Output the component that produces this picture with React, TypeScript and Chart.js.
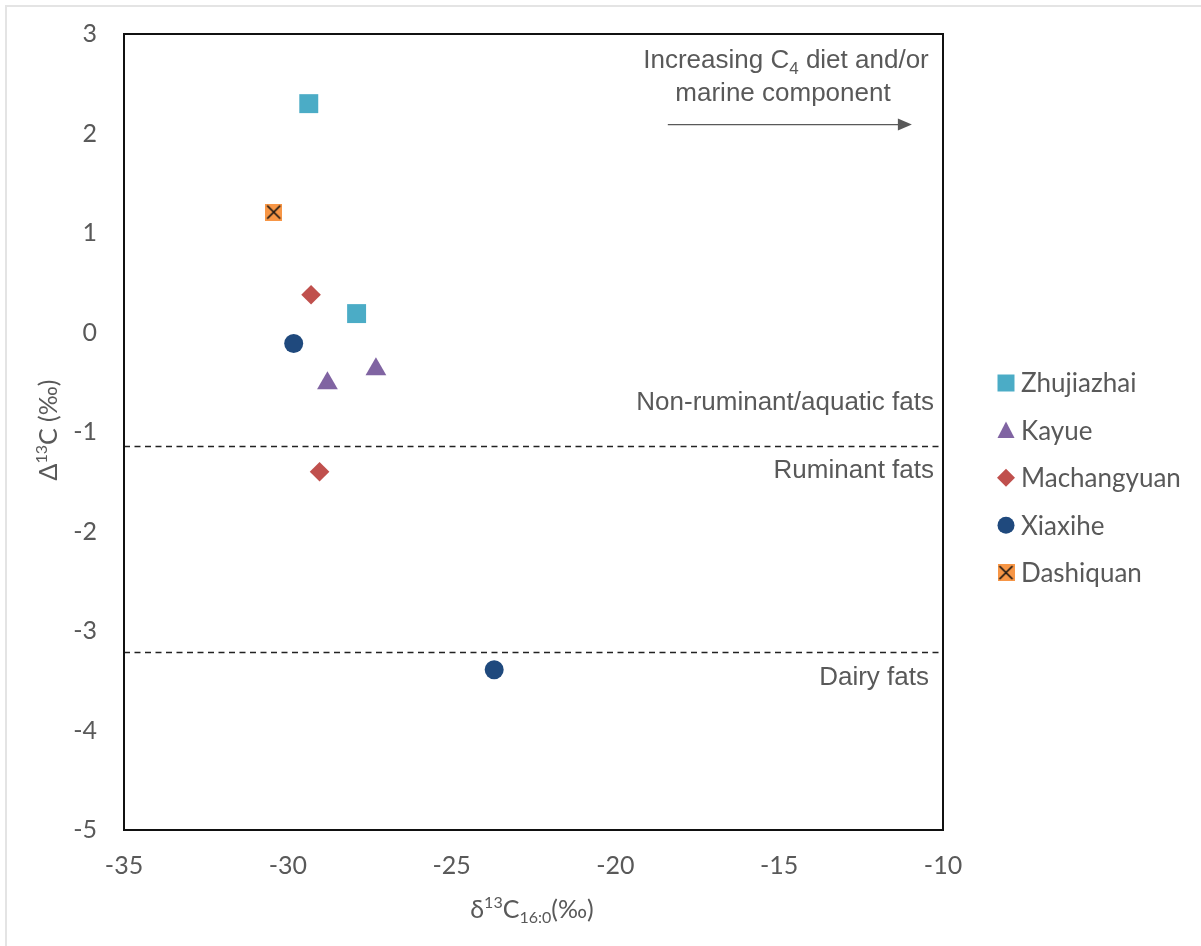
import React, { useEffect, useRef } from "react";
import { Chart, registerables } from "chart.js";

Chart.register(...registerables);

// ---- data ----
const zhujiazhaiX = [-29.36, -27.9];
const zhujiazhaiY = [2.3, 0.19];
const kayueX = [-28.79, -27.31];
const kayueY = [-0.51, -0.37];
const machangyuanX = [-29.29, -29.03];
const machangyuanY = [0.38, -1.4];
const xiaxiheX = [-29.82, -23.7];
const xiaxiheY = [-0.11, -3.39];
const dashiquanX = [-30.43];
const dashiquanY = [1.21];

const seriesNames = ["Zhujiazhai", "Kayue", "Machangyuan", "Xiaxihe", "Dashiquan"];
const xTicks = [-35, -30, -25, -20, -15, -10];
const yTicks = [-5, -4, -3, -2, -1, 0, 1, 2, 3];

const ruminantBoundary = -1.14;
const dairyBoundary = -3.21;
const arrowFromX = -18.4;
const arrowToX = -10.95;
const arrowY = 2.09;

const COLORS = ["#4BACC6", "#8064A2", "#C0504D", "#1F497D", "#F79646"];
const STYLES = ["rect", "triangle", "rectRot", "circle", "x-box"];
const GREY = "#595959";
const TICK_FONT = "Lato";
const NOTE_FONT = "'Liberation Sans', Arial, sans-serif";

function toPoints(xs: number[], ys: number[]) {
  return xs.map((x, i) => ({ x, y: ys[i] }));
}

function makeXBox(side: number) {
  const c = document.createElement("canvas");
  c.width = side;
  c.height = side;
  const g = c.getContext("2d")!;
  g.fillStyle = COLORS[4];
  g.fillRect(0, 0, side, side);
  g.strokeStyle = "#111";
  g.lineWidth = 1.6;
  g.beginPath();
  g.moveTo(2, 2);
  g.lineTo(side - 2, side - 2);
  g.moveTo(side - 2, 2);
  g.lineTo(2, side - 2);
  g.stroke();
  return c;
}

type Run = { t: string; size: number; dy: number };

function drawRuns(ctx: CanvasRenderingContext2D, runs: Run[], x: number, y: number, align: string, family: string) {
  let total = 0;
  const widths = runs.map((r) => {
    ctx.font = `${r.size}px ${family}`;
    const w = ctx.measureText(r.t).width;
    total += w;
    return w;
  });
  let cx = align === "center" ? x - total / 2 : align === "right" ? x - total : x;
  ctx.textAlign = "left";
  ctx.textBaseline = "alphabetic";
  runs.forEach((r, i) => {
    ctx.font = `${r.size}px ${family}`;
    ctx.fillText(r.t, cx, y + r.dy);
    cx += widths[i];
  });
}

function legendMarker(ctx: CanvasRenderingContext2D, style: string, color: string, x: number, y: number, img: HTMLCanvasElement) {
  ctx.fillStyle = color;
  ctx.beginPath();
  if (style === "rect") {
    ctx.rect(x - 8.5, y - 8.5, 17, 17);
  } else if (style === "triangle") {
    ctx.moveTo(x, y - 9);
    ctx.lineTo(x + 8.5, y + 7.5);
    ctx.lineTo(x - 8.5, y + 7.5);
    ctx.closePath();
  } else if (style === "rectRot") {
    ctx.moveTo(x, y - 9);
    ctx.lineTo(x + 9, y);
    ctx.lineTo(x, y + 9);
    ctx.lineTo(x - 9, y);
    ctx.closePath();
  } else if (style === "circle") {
    ctx.arc(x, y, 8.5, 0, Math.PI * 2);
  } else {
    ctx.drawImage(img, x - img.width / 2, y - img.height / 2);
    return;
  }
  ctx.fill();
}

export default function App() {
  const ref = useRef<HTMLCanvasElement | null>(null);

  useEffect(() => {
    document.body.style.margin = "0";
    const canvas = ref.current!;
    const xbox = makeXBox(17);
    const legendBox = makeXBox(17);

    const plugin = {
      id: "decor",
      beforeDraw(chart: any) {
        const ctx = chart.ctx;
        ctx.save();
        ctx.fillStyle = "#ffffff";
        ctx.fillRect(0, 0, chart.width, chart.height);
        ctx.strokeStyle = "#e4e4e4";
        ctx.lineWidth = 2;
        ctx.beginPath();
        ctx.moveTo(6, chart.height);
        ctx.lineTo(6, 6);
        ctx.lineTo(chart.width, 6);
        ctx.stroke();
        ctx.restore();
      },
      beforeDatasetsDraw(chart: any) {
        const ctx = chart.ctx;
        const { left, right, top, bottom } = chart.chartArea;
        const ys = chart.scales.y;
        ctx.save();
        ctx.strokeStyle = "#222";
        ctx.lineWidth = 1.5;
        ctx.setLineDash([6, 4.5]);
        [ruminantBoundary, dairyBoundary].forEach((v) => {
          const py = Math.round(ys.getPixelForValue(v)) + 0.5;
          ctx.beginPath();
          ctx.moveTo(left, py);
          ctx.lineTo(right, py);
          ctx.stroke();
        });
        ctx.setLineDash([]);
        ctx.strokeStyle = "#111";
        ctx.lineWidth = 2;
        ctx.strokeRect(left, top, right - left, bottom - top);
        ctx.restore();
      },
      afterDatasetsDraw(chart: any) {
        const ctx = chart.ctx;
        const xs = chart.scales.x;
        const ys = chart.scales.y;
        ctx.save();
        ctx.fillStyle = GREY;
        // top-right note
        drawRuns(ctx, [
          { t: "Increasing C", size: 26, dy: 0 },
          { t: "4", size: 17, dy: 6 },
          { t: " diet and/or", size: 26, dy: 0 },
        ], 786, 68, "center", NOTE_FONT);
        drawRuns(ctx, [{ t: "marine component", size: 26, dy: 0 }], 783, 101, "center", NOTE_FONT);
        // arrow
        const ax0 = xs.getPixelForValue(arrowFromX);
        const ax1 = xs.getPixelForValue(arrowToX);
        const ay = ys.getPixelForValue(arrowY);
        ctx.strokeStyle = GREY;
        ctx.lineWidth = 1.3;
        ctx.beginPath();
        ctx.moveTo(ax0, ay);
        ctx.lineTo(ax1 - 10, ay);
        ctx.stroke();
        ctx.beginPath();
        ctx.moveTo(ax1, ay);
        ctx.lineTo(ax1 - 14, ay - 6);
        ctx.lineTo(ax1 - 14, ay + 6);
        ctx.closePath();
        ctx.fill();
        // zone labels
        drawRuns(ctx, [{ t: "Non-ruminant/aquatic fats", size: 26, dy: 0 }], 934, 410, "right", NOTE_FONT);
        drawRuns(ctx, [{ t: "Ruminant fats", size: 26, dy: 0 }], 934, 478, "right", NOTE_FONT);
        drawRuns(ctx, [{ t: "Dairy fats", size: 26, dy: 0 }], 929, 685, "right", NOTE_FONT);
        // axis titles
        drawRuns(ctx, [
          { t: "δ", size: 25, dy: 0 },
          { t: "13", size: 16, dy: -10 },
          { t: "C", size: 25, dy: 0 },
          { t: "16:0", size: 16, dy: 5 },
          { t: "(‰)", size: 25, dy: 0 },
        ], 532, 918, "center", TICK_FONT);
        ctx.save();
        ctx.translate(57, 430);
        ctx.rotate(-Math.PI / 2);
        drawRuns(ctx, [
          { t: "Δ", size: 25, dy: 0 },
          { t: "13", size: 16, dy: -10 },
          { t: "C (‰)", size: 25, dy: 0 },
        ], 0, 0, "center", TICK_FONT);
        ctx.restore();
        // legend
        seriesNames.forEach((name, i) => {
          const ly = 383 + i * 47.4;
          legendMarker(ctx, STYLES[i], COLORS[i], 1006, ly, legendBox);
          ctx.fillStyle = GREY;
          ctx.font = `26px ${TICK_FONT}`;
          ctx.textAlign = "left";
          ctx.textBaseline = "middle";
          ctx.fillText(name, 1021, ly + 1);
        });
        ctx.restore();
      },
    };

    const mk = (i: number, xsArr: number[], ysArr: number[], radius: number) => ({
      label: seriesNames[i],
      data: toPoints(xsArr, ysArr),
      backgroundColor: COLORS[i],
      borderColor: COLORS[i],
      borderWidth: 0,
      pointStyle: STYLES[i] === "x-box" ? xbox : STYLES[i],
      pointRadius: radius,
      pointHoverRadius: radius,
    });

    const chart = new Chart(canvas, {
      type: "scatter",
      data: {
        datasets: [
          mk(0, zhujiazhaiX, zhujiazhaiY, 13.4),
          mk(1, kayueX, kayueY, 12),
          mk(2, machangyuanX, machangyuanY, 9.8),
          mk(3, xiaxiheX, xiaxiheY, 9.5),
          mk(4, dashiquanX, dashiquanY, 9),
        ],
      },
      options: {
        animation: false,
        responsive: false,
        maintainAspectRatio: false,
        devicePixelRatio: 1,
        layout: { padding: { top: 34, right: 258, left: 0, bottom: 0 } },
        plugins: { legend: { display: false }, tooltip: { enabled: false } },
        scales: {
          x: {
            type: "linear",
            min: -35,
            max: -10,
            afterBuildTicks: (s: any) => { s.ticks = xTicks.map((v) => ({ value: v })); },
            afterFit: (s: any) => { s.height = 116; s.paddingLeft = 0; s.paddingRight = 0; },
            grid: { display: false, drawTicks: false },
            border: { display: false },
            ticks: { color: GREY, font: { family: TICK_FONT, size: 25 }, padding: 21 },
          },
          y: {
            type: "linear",
            min: -5,
            max: 3,
            afterBuildTicks: (s: any) => { s.ticks = yTicks.map((v) => ({ value: v })); },
            afterFit: (s: any) => { s.width = 124; s.paddingTop = 0; s.paddingBottom = 0; },
            grid: { display: false, drawTicks: false },
            border: { display: false },
            ticks: { color: GREY, font: { family: TICK_FONT, size: 25 }, padding: 27 },
          },
        },
      },
      plugins: [plugin],
    } as any);
    return () => chart.destroy();
  }, []);

  return (
    <div style={{ width: 1201, height: 946 }}>
      <canvas ref={ref} width={1201} height={946} style={{ display: "block", width: 1201, height: 946 }} />
    </div>
  );
}
